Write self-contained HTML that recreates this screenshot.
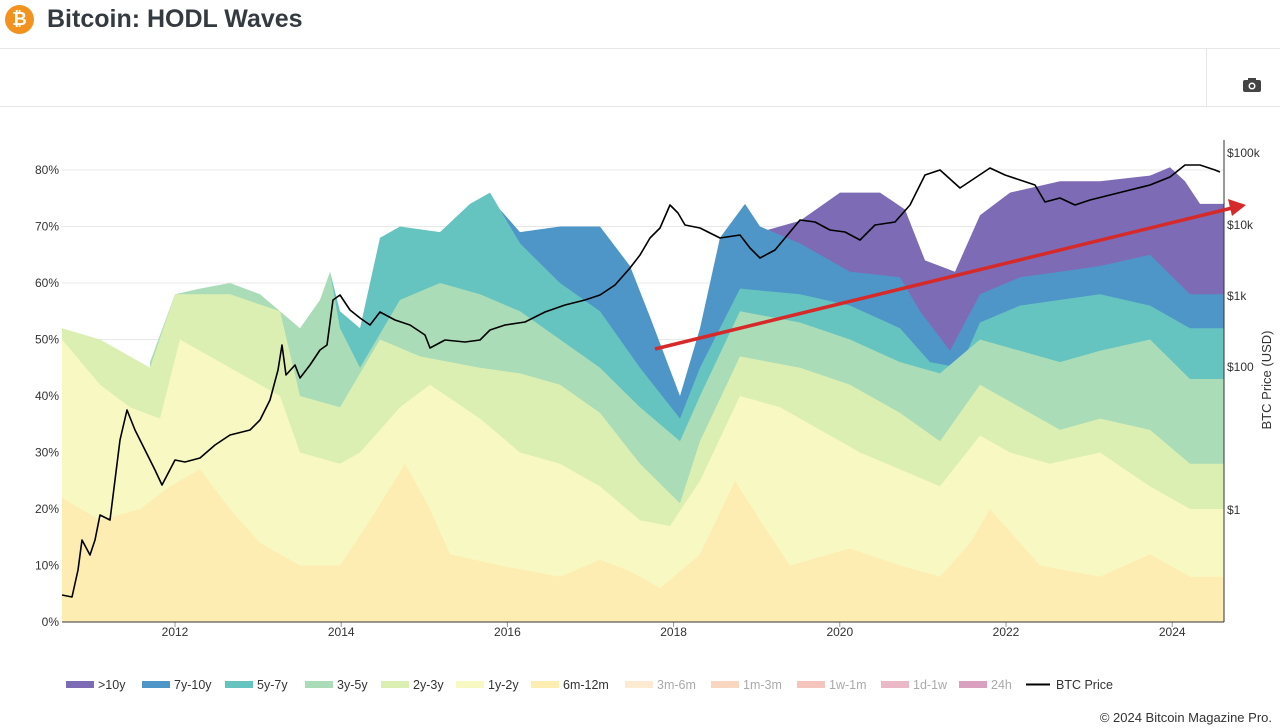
<!DOCTYPE html>
<html><head><meta charset="utf-8"><style>
body{margin:0;width:1280px;height:728px;background:#fff;font-family:"Liberation Sans",sans-serif;overflow:hidden;position:relative}
.t{position:absolute;left:47px;top:5px;font-size:25px;font-weight:bold;color:#333a40}
.ic{position:absolute;left:5px;top:5px;width:29px;height:29px;border-radius:50%;background:#f2931f;color:#fff;font-weight:bold;font-size:18px;text-align:center;line-height:29px}
.h1{position:absolute;left:0;top:48px;width:1280px;height:1px;background:#e6e6e6}
.h2{position:absolute;left:0;top:106px;width:1280px;height:1px;background:#e6e6e6}
.v{position:absolute;left:1206px;top:48px;width:1px;height:58px;background:#e6e6e6}
.ft{position:absolute;right:8px;top:710px;font-size:13px;color:#333}
</style></head><body>
<div class="ic">₿</div><div class="t">Bitcoin: HODL Waves</div>
<div class="h1"></div><div class="h2"></div><div class="v"></div>
<svg style="position:absolute;left:1242px;top:77px" width="20" height="16"><rect x="1" y="3" width="18" height="12" rx="2" fill="#444"/><rect x="6" y="1" width="8" height="4" fill="#444"/><circle cx="10" cy="9" r="3.5" fill="#fff"/><circle cx="10" cy="9" r="2" fill="#444"/></svg>
<svg id="c" width="1280" height="728" style="position:absolute;left:0;top:0"></svg>
<div class="ft">© 2024 Bitcoin Magazine Pro.</div>
<script>
const P=p=>(622-p*5.65).toFixed(1);
function pts(a){return a.map(q=>q[0]+','+P(q[1])).join(' ');}
function area(a,col){const f=a[0][0],l=a[a.length-1][0];return `<polygon points="${f},622 ${pts(a)} ${l},622" fill="${col}"/>`;}
const purple=[[745,70],[760,69],[800,71],[840,76],[880,76],[905,73],[925,64],[955,62],[980,72],[1010,76],[1060,78],[1100,78],[1150,79],[1170,80.5],[1185,78],[1200,74],[1224,74]];
const blue=[[490,74],[500,73],[520,69],[560,70],[600,70],[630,63],[650,54],[680,40],[700,52],[720,68],[745,74],[760,70],[800,67],[850,62],[900,61],[920,55],[950,48],[980,58],[1020,61],[1060,62],[1100,63],[1150,65],[1190,58],[1224,58]];
const teal=[[330,62],[340,55],[360,52],[380,68],[400,70],[440,69],[470,74],[490,76],[500,73],[520,67],[560,60],[600,55],[640,45],[680,36],[700,45],[740,59],[800,58],[850,56],[900,52],[930,46],[960,45],[980,53],[1020,56],[1060,57],[1100,58],[1150,56],[1190,52],[1224,52]];
const mint=[[150,46],[175,58],[200,59],[230,60],[260,58],[280,55],[300,52],[320,57],[330,62],[340,52],[360,45],[400,57],[440,60],[480,58],[520,55],[560,50],[600,45],[640,38],[680,32],[700,40],[740,55],[800,53],[850,50],[900,46],[940,44],[980,50],[1020,48],[1060,46],[1100,48],[1150,50],[1190,43],[1224,43]];
const lgreen=[[62,52],[100,50],[130,47],[150,45],[175,58],[230,58],[280,55],[300,40],[340,38],[380,50],[420,47],[480,45],[520,44],[560,42],[600,37],[640,28],[680,21],[700,32],[740,47],[800,45],[850,42],[900,37],[940,32],[980,42],[1020,38],[1060,34],[1100,36],[1150,34],[1190,28],[1224,28]];
const yel=[[62,50],[100,42],[130,38],[160,36],[180,50],[230,45],[280,40],[300,30],[340,28],[360,30],[400,38],[430,42],[480,36],[520,30],[560,28],[600,24],[640,18],[670,17],[700,25],[740,40],[780,38],[820,34],[860,30],[900,27],[940,24],[980,33],[1010,30],[1050,28],[1100,30],[1150,24],[1190,20],[1224,20]];
const org=[[62,22],[100,18],[140,20],[170,24],[200,27],[230,20],[260,14],[300,10],[340,10],[370,18],[405,28],[430,20],[450,12],[500,10],[560,8],[600,11],[630,9],[660,6],[700,12],[735,25],[760,18],[790,10],[850,13],[900,10],[940,8],[970,14],[990,20],[1010,16],[1040,10],[1100,8],[1150,12],[1190,8],[1224,8]];
let s='';
for(let i=0;i<=8;i++){const y=P(i*10);s+=`<line x1="62" x2="1224" y1="${y}" y2="${y}" stroke="#e8e8e8"/><text x="59" y="${+y+4}" font-size="12" text-anchor="end" fill="#333">${i*10}%</text>`;}
s+=area(purple,'#7d6bb5')+area(blue,'#4e96c8')+area(teal,'#66c4c0')+area(mint,'#aadcb8')+area(lgreen,'#dcefb2')+area(yel,'#f8f8c2')+area(org,'#fdedb2');
const yrs=[2012,2014,2016,2018,2020,2022,2024];yrs.forEach((y,i)=>{const x=175+i*166.2;s+=`<line x1="${x}" x2="${x}" y1="622" y2="627" stroke="#999"/><text x="${x}" y="636" font-size="12" text-anchor="middle" fill="#333">${y}</text>`;});
s+=`<line x1="62" x2="1224" y1="622" y2="622" stroke="#333"/><line x1="1224" x2="1224" y1="140" y2="622" stroke="#333"/>`;
[['$100k',153],['$10k',225],['$1k',296],['$100',367],['$1',510]].forEach(a=>{s+=`<text x="1227" y="${a[1]+4}" font-size="12" fill="#333">${a[0]}</text>`;});
s+=`<text transform="translate(1271,380) rotate(-90)" font-size="13" text-anchor="middle" fill="#333">BTC Price (USD)</text>`;
const btc=[[62,595],[72,597],[78,570],[82,540],[90,555],[95,540],[100,515],[110,520],[115,480],[120,440],[127,410],[135,430],[145,450],[155,470],[162,485],[175,460],[185,462],[200,458],[215,445],[230,435],[250,430],[260,420],[270,400],[278,370],[282,345],[286,375],[295,365],[300,378],[310,365],[320,350],[327,345],[333,300],[340,295],[350,310],[360,318],[370,325],[380,312],[395,320],[410,325],[425,335],[430,348],[445,340],[465,342],[480,340],[490,330],[505,325],[525,322],[545,312],[565,305],[585,300],[600,295],[615,285],[630,268],[640,255],[650,238],[660,228],[670,205],[678,213],[685,225],[700,228],[720,238],[740,235],[750,248],[760,258],[775,250],[790,232],[800,220],[815,222],[830,230],[845,232],[860,240],[875,225],[895,222],[910,205],[925,175],[940,170],[960,188],[975,178],[990,168],[1005,175],[1020,180],[1035,185],[1045,202],[1060,198],[1075,205],[1090,200],[1110,195],[1130,190],[1150,185],[1170,177],[1185,165],[1200,165],[1215,170],[1220,172]];
s+=`<polyline points="${btc.map(q=>q.join(',')).join(' ')}" fill="none" stroke="#000" stroke-width="1.6" stroke-linejoin="round"/>`;
s+=`<line x1="655" y1="349" x2="1232" y2="208" stroke="#d62a2a" stroke-width="3.5"/><polygon points="1246,205 1228,199 1232,216" fill="#d62a2a"/>`;
const lg=[['>10y',66,'#7d6bb5',1],['7y-10y',142,'#4e96c8',1],['5y-7y',225,'#66c4c0',1],['3y-5y',305,'#aadcb8',1],['2y-3y',381,'#dcefb2',1],['1y-2y',456,'#f8f8c2',1],['6m-12m',531,'#fdedb2',1],['3m-6m',625,'#fcebd0',0],['1m-3m',711,'#f9d6c0',0],['1w-1m',797,'#f4c4bd',0],['1d-1w',881,'#ebb8c8',0],['24h',959,'#d9a0c0',0]];
lg.forEach(a=>{s+=`<rect x="${a[1]}" y="681" width="28" height="7" fill="${a[2]}"/><text x="${a[1]+32}" y="689" font-size="12.5" fill="${a[3]?'#333':'#aaa'}">${a[0]}</text>`;});
s+=`<line x1="1026" x2="1050" y1="684.5" y2="684.5" stroke="#000" stroke-width="2"/><text x="1056" y="689" font-size="12.5" fill="#333">BTC Price</text>`;
document.getElementById('c').innerHTML=s;
</script>
</body></html>
